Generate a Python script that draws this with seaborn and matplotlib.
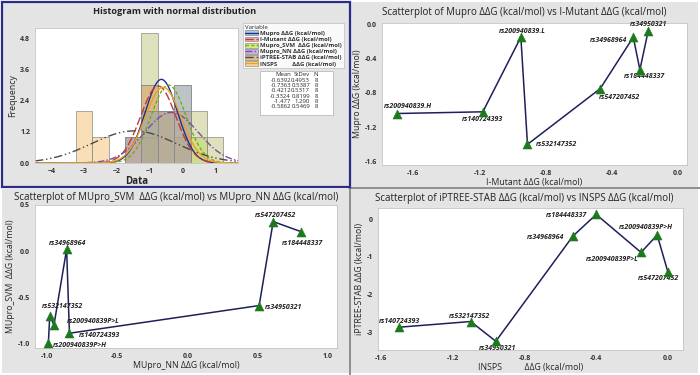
import numpy as np
import pandas as pd
import matplotlib
matplotlib.use("Agg")
import matplotlib.pyplot as plt
from matplotlib.patches import Rectangle, Patch
from matplotlib.lines import Line2D
import seaborn as sns

# ---------------- data ----------------
# Panel: Mupro vs I-Mutant
tr_labels = ["rs200940839.H", "rs140724393", "rs200940839.L", "rs532147352",
             "rs547207452", "rs34968964", "rs184448337", "rs34950321"]
imutant = [-1.70, -1.18, -0.95, -0.91, -0.47, -0.27, -0.23, -0.18]
mupro = [-1.04, -1.02, -0.15, -1.40, -0.75, -0.15, -0.53, -0.08]

# Panel: MUpro_SVM vs MUpro_NN
bl_labels = ["rs200940839P>H", "rs532147352", "rs200940839P>L", "rs34968964",
             "rs140724393", "rs34950321", "rs547207452", "rs184448337"]
mupro_nn = [-0.99, -0.98, -0.95, -0.86, -0.84, 0.51, 0.61, 0.81]
mupro_svm = [-1.00, -0.70, -0.80, 0.02, -0.89, -0.59, 0.32, 0.21]

# Panel: iPTREE-STAB vs INSPS
br_labels = ["rs140724393", "rs532147352", "rs34950321", "rs34968964",
             "rs184448337", "rs200940839P>L", "rs200940839P>H", "rs547207452"]
insps = [-1.50, -1.10, -0.96, -0.53, -0.40, -0.15, -0.06, 0.00]
iptree = [-2.85, -2.70, -3.22, -0.45, 0.12, -0.88, -0.42, -1.40]

# Histogram summary table
var_names = ["Mupro ΔΔG (kcal/mol)", "I-Mutant ΔΔG (kcal/mol)",
             "Mupro_SVM  ΔΔG (kcal/mol)", "Mupro_NN ΔΔG (kcal/mol)",
             "iPTREE-STAB ΔΔG (kcal/mol)", "INSPS          ΔΔG (kcal/mol)"]
means = [-0.6392, -0.7363, -0.4212, -0.3324, -1.477, -0.5862]
stdevs = [0.4953, 0.5387, 0.5317, 0.8199, 1.290, 0.5469]
mean_txt = ["-0.6392", "-0.7363", "-0.4212", "-0.3324", "-1.477", "-0.5862"]
std_txt = ["0.4953", "0.5387", "0.5317", "0.8199", "1.290", "0.5469"]
n_obs = [8, 8, 8, 8, 8, 8]

# ---------------- style ----------------
hist_cols = ["#76addb", "#e88080", "#b5d33a", "#a7ad4a", "#f0a83a", "#c08040"]
legend_fill = ["#a8cdea", "#f0b0b0", "#d8e88a", "#c8b4e0", "#e0c090", "#f8d59a"]
line_cols = ["#1b2f8a", "#c23b3b", "#6fae1a", "#7d4fa3", "#4a4a4a", "#f0a020"]
line_styles = ["-", (0, (6, 2)), (0, (2.5, 1.5)), (0, (5, 1.5, 1, 1.5)),
               (0, (6, 2, 1, 2, 1, 2)), "-"]

sns.set_style("white")
plt.rcParams["font.family"] = ["Open Sans", "DejaVu Sans"]

W, H = 700, 375
fig = plt.figure(figsize=(7, 3.75), dpi=100, facecolor="white")

def fx(px):
    return px / W

def fy(py):
    return 1 - py / H

PANEL = "#e4e4e4"
# panel backgrounds
for (x0, y0, x1, y1) in [(2, 2, 349, 186), (351, 2, 698, 187),
                         (2, 189, 349, 373), (351, 189, 698, 373)]:
    fig.patches.append(Rectangle((fx(x0), fy(y1)), fx(x1 - x0), (y1 - y0) / H,
                                 transform=fig.transFigure, facecolor=PANEL,
                                 edgecolor="none", zorder=-10))
# separators
fig.add_artist(Line2D([fx(350), fx(350)], [fy(187), fy(375)], color="#7a7a7a", lw=1.2))
fig.add_artist(Line2D([fx(349), fx(700)], [fy(188), fy(188)], color="#7a7a7a", lw=1.2))
# navy frame around histogram panel
fig.patches.append(Rectangle((fx(1.5), fy(186.5)), fx(348), 184.5 / H,
                             transform=fig.transFigure, facecolor="none",
                             edgecolor="#2b2b8a", lw=1.6, zorder=5))

TICK_FS = 5.0
LAB_FS = 6.3
TITLE_FS = 7.0

def style_ax(ax):
    ax.set_facecolor("white")
    for s in ax.spines.values():
        s.set_color("#c4c4c4")
        s.set_linewidth(0.6)
    ax.tick_params(axis="both", labelsize=TICK_FS, colors="#333333",
                   length=2, width=0.5, pad=1.5, direction="out")
    for lab in ax.get_xticklabels() + ax.get_yticklabels():
        lab.set_fontweight("bold")
    ax.xaxis.label.set_size(LAB_FS)
    ax.yaxis.label.set_size(LAB_FS)
    ax.xaxis.labelpad = 1
    ax.yaxis.labelpad = 2

# ---------------- histogram panel ----------------
ax1 = fig.add_axes([fx(35), fy(163), fx(238 - 35), (163 - 28) / H])
series = [mupro, imutant, mupro_svm, mupro_nn, iptree, insps]
df = pd.DataFrame({"value": np.concatenate(series),
                   "variable": np.repeat(var_names, [len(s) for s in series])})
edges = np.arange(-3.25, 1.26, 0.5)
sns.histplot(data=df, x="value", hue="variable", hue_order=var_names,
             bins=edges, multiple="layer", palette=hist_cols, alpha=0.36,
             edgecolor="#8a8a8a", linewidth=0.5, legend=False, ax=ax1)
xs = np.linspace(-4.5, 1.7, 400)
bw = 0.5
for m, s, n, c, ls in zip(means, stdevs, n_obs, line_cols, line_styles):
    pdf = n * bw * np.exp(-0.5 * ((xs - m) / s) ** 2) / (s * np.sqrt(2 * np.pi))
    sns.lineplot(x=xs, y=pdf, color=c, ax=ax1, lw=1.0, linestyle=ls)
ax1.set_xlim(-4.5, 1.7)
ax1.set_ylim(0, 5.2)
ax1.set_xticks([-4, -3, -2, -1, 0, 1])
ax1.set_yticks([0, 1.2, 2.4, 3.6, 4.8])
ax1.set_yticklabels(["0.0", "1.2", "2.4", "3.6", "4.8"])
ax1.set_xlabel("Data")
ax1.set_ylabel("Frequency")
style_ax(ax1)
ax1.xaxis.label.set_fontweight("bold")
ax1.xaxis.label.set_size(7)
fig.text(fx(175), fy(12), "Histogram with normal distribution", ha="center",
         va="center", fontsize=6.6, fontweight="bold", color="#222222")

# legend
handles = [(Patch(facecolor=fc, edgecolor="#777777", lw=0.4),
            Line2D([], [], color=lc, ls=ls, lw=1.0))
           for fc, lc, ls in zip(legend_fill, line_cols, line_styles)]
leg = fig.legend(handles, var_names, title="Variable", loc="upper left",
                 bbox_to_anchor=(fx(243), fy(23)), fontsize=4.3,
                 title_fontsize=4.3, frameon=True, fancybox=False,
                 borderpad=0.3, labelspacing=0.1, handlelength=2.2,
                 handleheight=0.9, handletextpad=0.4, borderaxespad=0)
leg.get_frame().set_edgecolor("#b0b0b0")
leg.get_frame().set_linewidth(0.5)
leg._legend_box.align = "left"
for t in leg.get_texts():
    t.set_fontweight("bold")
    t.set_color("#333333")

# stats table
fig.patches.append(Rectangle((fx(260), fy(115)), fx(73), 44 / H,
                             transform=fig.transFigure, facecolor="white",
                             edgecolor="#b0b0b0", lw=0.5, zorder=2))
TFS = 4.3
fig.text(fx(291), fy(74.5), "Mean", ha="right", va="center", fontsize=TFS, zorder=3)
fig.text(fx(310), fy(74.5), "StDev", ha="right", va="center", fontsize=TFS, zorder=3)
fig.text(fx(318), fy(74.5), "N", ha="right", va="center", fontsize=TFS, zorder=3)
for i, (mt, st, n) in enumerate(zip(mean_txt, std_txt, n_obs)):
    yy = fy(80 + i * 5.4)
    fig.text(fx(291), yy, mt, ha="right", va="center", fontsize=TFS, zorder=3)
    fig.text(fx(310), yy, st, ha="right", va="center", fontsize=TFS, zorder=3)
    fig.text(fx(318), yy, str(n), ha="right", va="center", fontsize=TFS, zorder=3)

# ---------------- scatter panels ----------------
LINE_C = "#1f1f5c"
MARK_C = "#1c7a1c"
LBL_FS = 5.0

def scatter_panel(rect, x, y, labels, offsets, xlim, ylim, xticks, xtl,
                  yticks, ytl, xlabel, ylabel, title, title_pos):
    ax = fig.add_axes(rect)
    sns.lineplot(x=x, y=y, sort=False, estimator=None, color=LINE_C, lw=1.1, ax=ax)
    sns.scatterplot(x=x, y=y, marker="^", s=42, color=MARK_C, edgecolor=MARK_C,
                    linewidth=0.4, zorder=4, ax=ax)
    for xi, yi, lab in zip(x, y, labels):
        dx, dy, ha = offsets[lab]
        ax.annotate(lab, (xi, yi), xytext=(dx, dy), textcoords="offset pixels",
                    ha=ha, va="center", fontsize=LBL_FS, fontstyle="italic",
                    fontweight="bold", color="#222222")
    ax.set_xlim(*xlim)
    ax.set_ylim(*ylim)
    ax.set_xticks(xticks)
    ax.set_xticklabels(xtl)
    ax.set_yticks(yticks)
    ax.set_yticklabels(ytl)
    ax.set_xlabel(xlabel)
    ax.set_ylabel(ylabel)
    style_ax(ax)
    fig.text(fx(title_pos[0]), fy(title_pos[1]), title, ha="center", va="center",
             fontsize=TITLE_FS, color="#222222")
    return ax

tr_off = {"rs200940839.H": (11, 7, "center"), "rs140724393": (0, -8, "center"),
          "rs200940839.L": (1, 6, "center"), "rs532147352": (8, 0, "left"),
          "rs547207452": (19, -9, "center"), "rs34968964": (-6, -3, "right"),
          "rs184448337": (5, -7, "center"), "rs34950321": (0, 7, "center")}
scatter_panel([fx(382), fy(165), fx(305), 142 / H], imutant, mupro, tr_labels, tr_off,
              (-1.79, 0.055), (-1.64, 0.015),
              [-1.6, -1.2, -0.8, -0.4, 0.0], ["-1.6", "-1.2", "-0.8", "-0.4", "0.0"],
              [0.0, -0.4, -0.8, -1.2, -1.6], ["0.0", "-0.4", "-0.8", "-1.2", "-1.6"],
              "I-Mutant ΔΔG (kcal/mol)", "Mupro ΔΔG (kcal/mol)",
              "Scatterplot of Mupro ΔΔG (kcal/mol) vs I-Mutant ΔΔG (kcal/mol)", (524, 12))

bl_off = {"rs200940839P>H": (5, -2, "left"), "rs532147352": (13, 9, "center"),
          "rs200940839P>L": (13, 3, "left"), "rs34968964": (1, 6, "center"),
          "rs140724393": (9, -2, "left"), "rs34950321": (6, -2, "left"),
          "rs547207452": (2, 6, "center"), "rs184448337": (1, -12, "center")}
scatter_panel([fx(35), fy(348), fx(302), 143 / H], mupro_nn, mupro_svm, bl_labels, bl_off,
              (-1.085, 1.064), (-1.05, 0.5),
              [-1.0, -0.5, 0.0, 0.5, 1.0], ["-1.0", "-0.5", "0.0", "0.5", "1.0"],
              [0.5, 0.0, -0.5, -1.0], ["0.5", "0.0", "-0.5", "-1.0"],
              "MUpro_NN ΔΔG (kcal/mol)", "MUpro_SVM  ΔΔG (kcal/mol)",
              "Scatterplot of MUpro_SVM  ΔΔG (kcal/mol) vs MUpro_NN ΔΔG (kcal/mol)", (176, 197.5))

br_off = {"rs140724393": (1, 6, "center"), "rs532147352": (-1, 5, "center"),
          "rs34950321": (2, -7, "center"), "rs34968964": (-9, -1, "right"),
          "rs184448337": (-9, -1, "right"), "rs200940839P>L": (-2, -7, "right"),
          "rs200940839P>H": (-11, 7, "center"), "rs547207452": (-9, -6, "center")}
scatter_panel([fx(378), fy(350), fx(305), 142 / H], insps, iptree, br_labels, br_off,
              (-1.617, 0.084), (-3.45, 0.29),
              [-1.6, -1.2, -0.8, -0.4, 0.0], ["-1.6", "-1.2", "-0.8", "-0.4", "0.0"],
              [0, -1, -2, -3], ["0", "-1", "-2", "-3"],
              "INSPS          ΔΔG (kcal/mol)", "iPTREE-STAB ΔΔG (kcal/mol)",
              "Scatterplot of iPTREE-STAB ΔΔG (kcal/mol) vs INSPS ΔΔG (kcal/mol)", (524, 198.5))

fig.savefig("out.png", dpi=100, facecolor="white")
